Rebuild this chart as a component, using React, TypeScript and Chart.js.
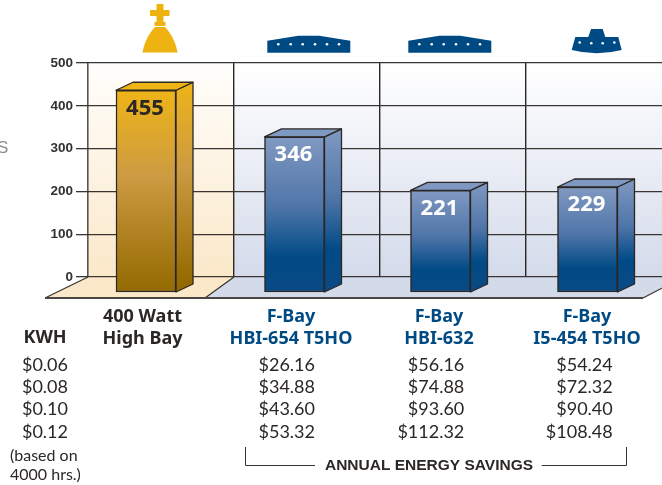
import React, { useEffect, useRef } from "react";
import Chart from "chart.js/auto";

const categories = [["400 Watt", "High Bay"], ["F-Bay", "HBI-654 T5HO"], ["F-Bay", "HBI-632"], ["F-Bay", "I5-454 T5HO"]];
const kwhUsage = [455, 346, 221, 229];
const yTicks = [0, 100, 200, 300, 400, 500];
const kwhRates = ["$0.06", "$0.08", "$0.10", "$0.12"];
const savingsHbi654 = ["$26.16", "$34.88", "$43.60", "$53.32"];
const savingsHbi632 = ["$56.16", "$74.88", "$93.60", "$112.32"];
const savingsI5454 = ["$54.24", "$72.32", "$90.40", "$108.48"];

const HEAD_FONT = '"Noto Sans", sans-serif';
const BODY_FONT = "Lato, sans-serif";
const HELV = '"Liberation Sans", sans-serif';
const INK = "#2b2725";
const NAVY = "#004a84";
const GOLD = "#efb311";
const DEPTH_X = 17;
const DEPTH_Y = 8;
const FRONT_DROP = 15;
const barNudge = [-15, -12.5, -12.5, -11.5];
const labelNudge = [-18.5, -16, -14, -12];

function faceGradient(c: CanvasRenderingContext2D, index: number, top: number, bottom: number) {
  const g = c.createLinearGradient(0, top, 0, bottom);
  if (index === 0) {
    g.addColorStop(0, "#eeb417");
    g.addColorStop(0.42, "#cd9b42");
    g.addColorStop(1, "#936900");
  } else {
    g.addColorStop(0, "#8099c2");
    g.addColorStop(0.45, "#4f75a8");
    g.addColorStop(0.78, "#004a86");
    g.addColorStop(1, "#0a4a84");
  }
  return g;
}

function text(c: CanvasRenderingContext2D, s: string, x: number, y: number, font: string, color: string, align: CanvasTextAlign = "center") {
  c.font = font;
  c.fillStyle = color;
  c.textAlign = align;
  c.textBaseline = "middle";
  c.fillText(s, x, y);
}

function poly(c: CanvasRenderingContext2D, pts: number[][], fill?: any, stroke?: string, lw = 1) {
  c.beginPath();
  pts.forEach((p, i) => (i ? c.lineTo(p[0], p[1]) : c.moveTo(p[0], p[1])));
  c.closePath();
  if (fill) { c.fillStyle = fill; c.fill(); }
  if (stroke) { c.strokeStyle = stroke; c.lineWidth = lw; c.lineJoin = "round"; c.stroke(); }
}

function drawDots(c: CanvasRenderingContext2D, xs: number[], y: number) {
  c.fillStyle = "#ffffff";
  xs.forEach((x) => { c.beginPath(); c.arc(x, y, 1.3, 0, Math.PI * 2); c.fill(); });
}

function drawIcons(c: CanvasRenderingContext2D) {
  // king piece
  c.fillStyle = GOLD;
  c.fillRect(156.5, 4, 7, 22);
  c.fillRect(150, 10, 19.5, 6);
  c.fillRect(154.5, 22, 11, 4);
  c.beginPath();
  c.moveTo(155, 27);
  c.lineTo(165, 27);
  c.bezierCurveTo(171, 33, 176, 43, 177.5, 52.5);
  c.lineTo(142.5, 52.5);
  c.bezierCurveTo(144, 43, 149, 33, 155, 27);
  c.fill();
  // wide fixtures
  [267.3, 408.3].forEach((x0) => {
    poly(c, [[x0, 52.7], [x0, 40.7], [x0 + 31, 35.7], [x0 + 52, 35.7], [x0 + 83, 40.7], [x0 + 83, 52.7]], NAVY);
    drawDots(c, [11, 23.4, 35.4, 47.7, 59.7, 71.7].map((d) => x0 + d), 44.3);
  });
  // compact fixture
  c.fillStyle = NAVY;
  c.beginPath();
  c.moveTo(575.3, 37);
  c.lineTo(588.3, 37);
  c.lineTo(591, 29);
  c.lineTo(602.7, 29);
  c.lineTo(605.3, 37);
  c.lineTo(618.3, 37);
  c.lineTo(621.7, 50);
  c.quadraticCurveTo(596.7, 56.5, 571.7, 50);
  c.closePath();
  c.fill();
  drawDots(c, [579.7, 614.3], 42.5);
  drawDots(c, [591.3, 602.7], 43.3);
}

const scenery = {
  id: "scenery",
  afterUpdate(chart: any) {
    const meta = chart.getDatasetMeta(0);
    const y = chart.scales.y;
    const base = y.getPixelForValue(0) + FRONT_DROP;
    meta.data.forEach((el: any, i: number) => {
      el.x += barNudge[i];
      el.y += DEPTH_Y;
      el.base = base;
    });
    chart.scales.x.getLabelItems().forEach((item: any, i: number) => {
      item.options.translation[0] += labelNudge[i];
    });
  },
  beforeDraw(chart: any) {
    const c: CanvasRenderingContext2D = chart.ctx;
    const { x, y } = chart.scales;
    const top = y.getPixelForValue(500);
    const zero = y.getPixelForValue(0);
    const split = x.left + (x.right - x.left) / categories.length;
    const floorY = zero + 21;
    c.save();
    c.fillStyle = "#ffffff";
    c.fillRect(0, 0, chart.width, chart.height);
    const warm = c.createLinearGradient(0, top, 0, zero);
    warm.addColorStop(0, "#fffefc");
    warm.addColorStop(1, "#fbe8c9");
    c.fillStyle = warm;
    c.fillRect(x.left, top, split - x.left, zero - top);
    const cool = c.createLinearGradient(0, top, 0, zero);
    cool.addColorStop(0, "#ffffff");
    cool.addColorStop(1, "#d3daea");
    c.fillStyle = cool;
    c.fillRect(split, top, chart.width - split, zero - top);
    poly(c, [[x.left, zero], [split, zero], [205, floorY], [45, floorY]], "#fbe8c9");
    poly(c, [[split, zero], [672, zero], [672, zero + 4], [643, floorY], [205, floorY]], "#d3daea");
    c.strokeStyle = "#3a3533";
    c.lineWidth = 1.3;
    c.beginPath();
    c.moveTo(x.left, zero); c.lineTo(45, floorY);
    c.moveTo(split, zero); c.lineTo(205, floorY);
    c.moveTo(643, floorY); c.lineTo(664, zero + 10);
    c.stroke();
    c.strokeStyle = "#4a4644";
    c.lineWidth = 1.8;
    c.beginPath();
    c.moveTo(45, floorY); c.lineTo(643, floorY);
    c.stroke();
    c.restore();
  },
  beforeDatasetsDraw(chart: any) {
    const c: CanvasRenderingContext2D = chart.ctx;
    const y = chart.scales.y;
    const meta = chart.getDatasetMeta(0);
    c.save();
    meta.data.forEach((el: any, i: number) => {
      const half = el.width / 2;
      const l = el.x - half, r = el.x + half, t = el.y, b = el.base;
      const bottom = y.getPixelForValue(0) + FRONT_DROP;
      poly(c, [[r, t], [r + DEPTH_X, t - DEPTH_Y], [r + DEPTH_X, b - DEPTH_Y], [r, b]], faceGradient(c, i, t - DEPTH_Y, bottom - DEPTH_Y), INK, 1.3);
      poly(c, [[l, t], [l + DEPTH_X, t - DEPTH_Y], [r + DEPTH_X, t - DEPTH_Y], [r, t]], i === 0 ? "#efb516" : "#7f98c1", INK, 1.3);
    });
    c.restore();
  },
  afterDatasetsDraw(chart: any) {
    const c: CanvasRenderingContext2D = chart.ctx;
    const meta = chart.getDatasetMeta(0);
    c.save();
    meta.data.forEach((el: any, i: number) => {
      text(c, String(kwhUsage[i]), el.x - 1, el.y + 18, `bold 22px ${HEAD_FONT}`, i === 0 ? INK : "#ffffff");
    });
    // savings table
    const rowY = [365, 387, 409, 432];
    const regular = `18px ${BODY_FONT}`;
    text(c, "KWH", 45, 338, `bold 18px ${HEAD_FONT}`, INK);
    kwhRates.forEach((s, i) => text(c, s, 68, rowY[i], regular, INK, "right"));
    savingsHbi654.forEach((s, i) => text(c, s, 315, rowY[i], regular, INK, "right"));
    savingsHbi632.forEach((s, i) => text(c, s, 464.3, rowY[i], regular, INK, "right"));
    savingsI5454.forEach((s, i) => text(c, s, 612.7, rowY[i], regular, INK, "right"));
    text(c, "(based on", 10, 456, `16px ${BODY_FONT}`, INK, "left");
    text(c, "4000 hrs.)", 10, 475, `16px ${BODY_FONT}`, INK, "left");
    text(c, "ANNUAL ENERGY SAVINGS", 429, 465.5, `bold 15.5px ${HELV}`, INK);
    text(c, "S", -3, 148, `17px ${HELV}`, "#8a8a8a", "left");
    c.strokeStyle = "#3a3533";
    c.lineWidth = 1;
    c.beginPath();
    c.moveTo(245.5, 447); c.lineTo(245.5, 465.5); c.lineTo(315, 465.5);
    c.moveTo(541.7, 465.5); c.lineTo(626.5, 465.5); c.lineTo(626.5, 447);
    c.stroke();
    drawIcons(c);
    c.restore();
  },
};

export default function App() {
  const ref = useRef<HTMLCanvasElement>(null);
  useEffect(() => {
    const chart = new Chart(ref.current as HTMLCanvasElement, {
      type: "bar",
      plugins: [scenery],
      data: {
        labels: categories as any,
        datasets: [
          {
            data: kwhUsage,
            barThickness: 60,
            clip: false as any,
            borderWidth: 1.5,
            borderColor: INK,
            borderSkipped: false,
            backgroundColor: (ctx: any) => {
              const y = ctx.chart.scales.y;
              if (!y || typeof ctx.raw !== "number") return "#888888";
              const top = y.getPixelForValue(ctx.raw) + DEPTH_Y;
              const bottom = y.getPixelForValue(0) + FRONT_DROP;
              if (!Number.isFinite(top) || !Number.isFinite(bottom)) return "#888888";
              return faceGradient(ctx.chart.ctx, ctx.dataIndex, top, bottom);
            },
          },
        ],
      },
      options: {
        animation: false,
        responsive: false,
        events: [],
        layout: { autoPadding: false, padding: { left: 0, top: 63, right: 1, bottom: 0 } },
        plugins: { legend: { display: false }, tooltip: { enabled: false } },
        scales: {
          x: {
            afterFit: (s: any) => { s.height = 208; s.paddingLeft = 0; s.paddingRight = 0; },
            border: { display: false },
            grid: {
              offset: true,
              drawTicks: false,
              color: (ctx: any) => (ctx.index === 0 ? "#5b5352" : "#2b2725"),
              lineWidth: (ctx: any) => (ctx.index === 0 ? 1.6 : 1.4),
            },
            ticks: {
              autoSkip: false,
              maxRotation: 0,
              padding: 29,
              font: { family: "Noto Sans", weight: "bold", size: 18, lineHeight: 1.22 },
              color: (ctx: any) => (ctx.index === 0 ? INK : NAVY),
            },
          },
          y: {
            min: 0,
            max: 500,
            afterFit: (s: any) => { s.width = 88; },
            afterBuildTicks: (s: any) => { s.ticks = yTicks.map((value) => ({ value })); },
            border: { display: false },
            grid: { color: "#3a3533", lineWidth: 1.3, tickLength: 12 },
            ticks: {
              padding: 3,
              font: { family: "Liberation Sans", weight: "bold", size: 13.5 },
              color: "#333031",
            },
          },
        },
      },
    } as any);
    return () => chart.destroy();
  }, []);
  return (
    <div style={{ position: "absolute", left: 0, top: 0, width: 662, height: 485, overflow: "hidden", background: "#fff" }}>
      <canvas ref={ref} width={673} height={485} style={{ display: "block" }} />
    </div>
  );
}
